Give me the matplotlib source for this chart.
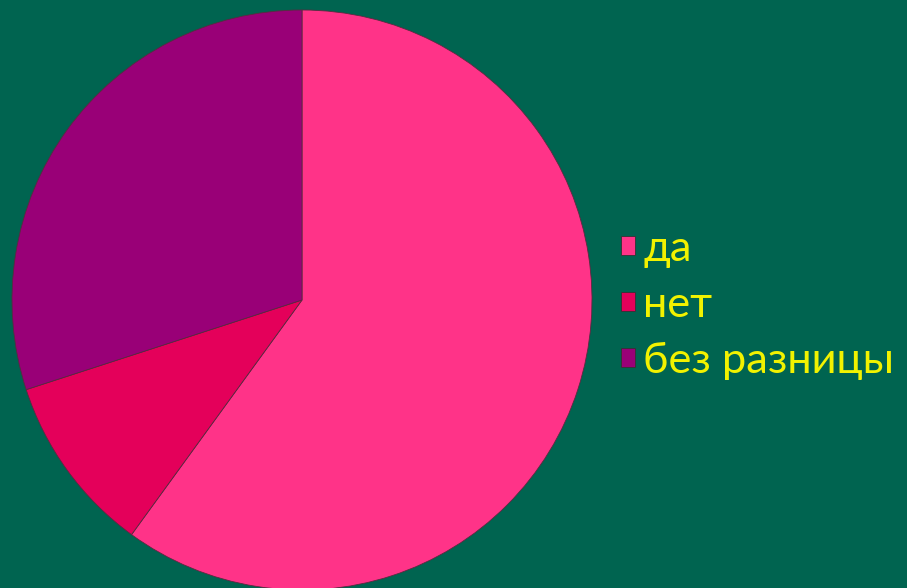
import matplotlib.pyplot as plt
from matplotlib.patches import Rectangle

labels = ['да', 'нет', 'без разницы']
values = [60, 10, 30]
colors = ['#FF3388', '#E4005A', '#990077']

W, H = 907, 588
fig = plt.figure(figsize=(W/100, H/100), dpi=100)
fig.patch.set_facecolor('#006450')

# pie centre ~ (302, 300) px, radius ~ 290 px
cx, cy, r = 302, 300, 290
ax = fig.add_axes([(cx-r)/W, (H-cy-r)/H, 2*r/W, 2*r/H])
ax.set_facecolor('none')
wedges, _ = ax.pie(values, colors=colors, startangle=90, counterclock=False,
                   wedgeprops={'edgecolor': '#5a2a40', 'linewidth': 0.6})
ax.set_xlim(-1, 1)
ax.set_ylim(-1, 1)
ax.set_aspect('equal')

handles = [Rectangle((0, 0), 1, 1, facecolor=c, edgecolor='#333333', linewidth=0.6) for c in colors]
leg = fig.legend(handles, labels, loc='center left', bbox_to_anchor=(621/W, 1-305/H),
                 frameon=False, handlelength=0.33, handleheight=0.3,
                 handletextpad=0.18, labelspacing=0.42, borderaxespad=0, borderpad=0,
                 prop={'family': ['Lato', 'DejaVu Sans'], 'size': 31.2})
for t in leg.get_texts():
    t.set_color('#F2F200')

fig.savefig('out.png', dpi=100, facecolor=fig.get_facecolor())
